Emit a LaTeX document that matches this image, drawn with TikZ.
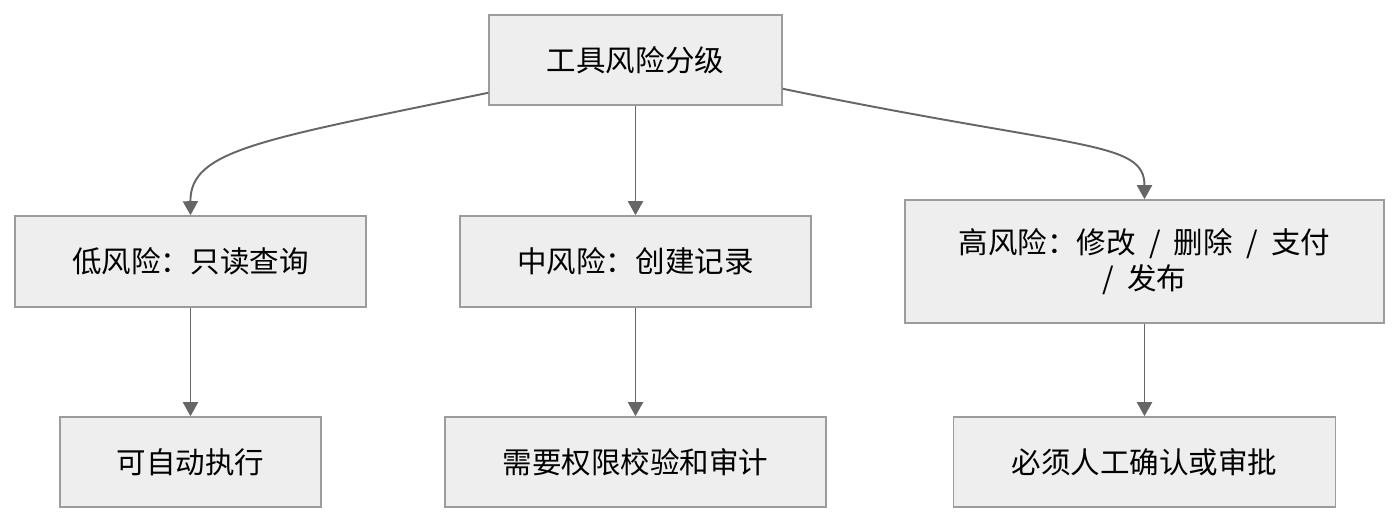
\documentclass[tikz,border=0pt]{standalone}
\usepackage{fontspec}
\setmainfont{Noto Sans CJK SC}
\usetikzlibrary{arrows.meta, calc}
\definecolor{boxfill}{HTML}{EEEEEE}
\definecolor{boxline}{HTML}{9C9C9C}
\definecolor{edgegray}{HTML}{666666}
\newcommand{\slashsep}{\hspace{0.45em}/\hspace{0.45em}}
\tikzset{
  riskbox/.style={draw=boxline, fill=boxfill, line width=0.9pt, align=center,
    font=\fontsize{16.8}{20.5}\selectfont, inner sep=0pt},
  flow/.style={draw=edgegray, line width=1.1pt,
    -{Triangle[width=0.3cm,length=0.28cm]}}
}
\begin{document}
\begin{tikzpicture}[x=0.02cm, y=-0.02cm]
        % canvas (pixel grid of the reference)
        \useasboundingbox (0,0) rectangle (1400,524);
        % Top node
        \node[riskbox, minimum width=5.86cm, minimum height=1.8cm] (root) at (635.5,60) {工具风险分级};
        % Risk levels
        \node[riskbox, minimum width=7.02cm, minimum height=1.82cm] (low) at (190.5,261.5) {低风险：只读查询};
        \node[riskbox, minimum width=7.02cm, minimum height=1.82cm] (mid) at (635.5,261.5) {中风险：创建记录};
        \node[riskbox, minimum width=9.58cm, minimum height=2.46cm] (high) at (1144.5,261.5) {高风险：修改{\slashsep}删除{\slashsep}支付\\/\hspace{0.45em}发布};
        % Handling
        \node[riskbox, minimum width=5.22cm, minimum height=1.8cm] (auto) at (190.5,462) {可自动执行};
        \node[riskbox, minimum width=7.62cm, minimum height=1.8cm] (perm) at (635.5,462) {需要权限校验和审计};
        \node[riskbox, minimum width=7.64cm, minimum height=1.8cm] (human) at (1144.5,462) {必须人工确认或审批};
        % Edges from the top node
        \coordinate (rootL) at ($(root.south west)+(0,-13)$);
        \coordinate (rootR) at ($(root.south east)+(0,-17)$);
        \draw[flow] (rootL) .. controls (260,140) and (190,150) .. (low.north);
        \draw[flow] (root.south) -- (mid.north);
        \draw[flow] (rootR) .. controls (1080,150) and (1144.5,140) .. (high.north);
        % Edges to handling
        \draw[flow] (low.south) -- (auto.north);
        \draw[flow] (mid.south) -- (perm.north);
        \draw[flow] (high.south) -- (human.north);
    \end{tikzpicture}
\end{document}
